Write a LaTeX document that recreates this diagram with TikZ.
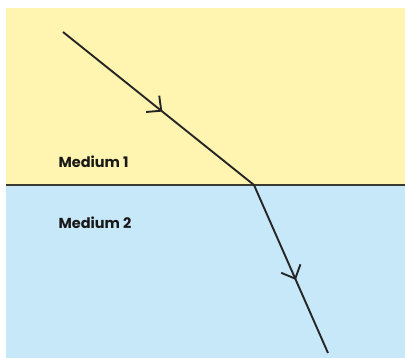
\documentclass[tikz,border=0pt]{standalone}
\usepackage{fontspec}
\setmainfont{Poppins}
\usetikzlibrary{decorations.markings,arrows.meta}

\definecolor{mediumyellow}{HTML}{FFF4B0}
\definecolor{mediumblue}{HTML}{C6E8F8}
\definecolor{edgegrey}{HTML}{3A3A30}

\begin{document}
\begin{tikzpicture}[x=1pt,y=-1pt,
  ray/.style={line width=1.9pt,black!85},
  midarrow/.style={postaction={decorate},decoration={markings,
    mark=at position #1 with {\arrow{Straight Barb[length=11pt,width=21pt,line width=1.9pt]}}}},
  label/.style={anchor=west,font=\bfseries\fontsize{14.5}{16}\selectfont,text=black!90}]
\useasboundingbox (0,0) rectangle (405,358);
\fill[white] (0,0) rectangle (405,358);
\fill[mediumyellow] (6,8) rectangle (405,185);
\fill[mediumblue] (6,185) rectangle (405,358);
\draw[edgegrey,line width=1.8pt] (6,185) -- (405,185);
\coordinate (src) at (63,32);
\coordinate (hit) at (254,185);
\coordinate (out) at (328,353);
\draw[ray,midarrow=0.52] (src) -- (hit);
\draw[ray,midarrow=0.565] (hit) -- (out);
\node[label] (m1) at (55,162) {Medium 1};
\node[label] (m2) at (55,223) {Medium 2};
\end{tikzpicture}
\end{document}
